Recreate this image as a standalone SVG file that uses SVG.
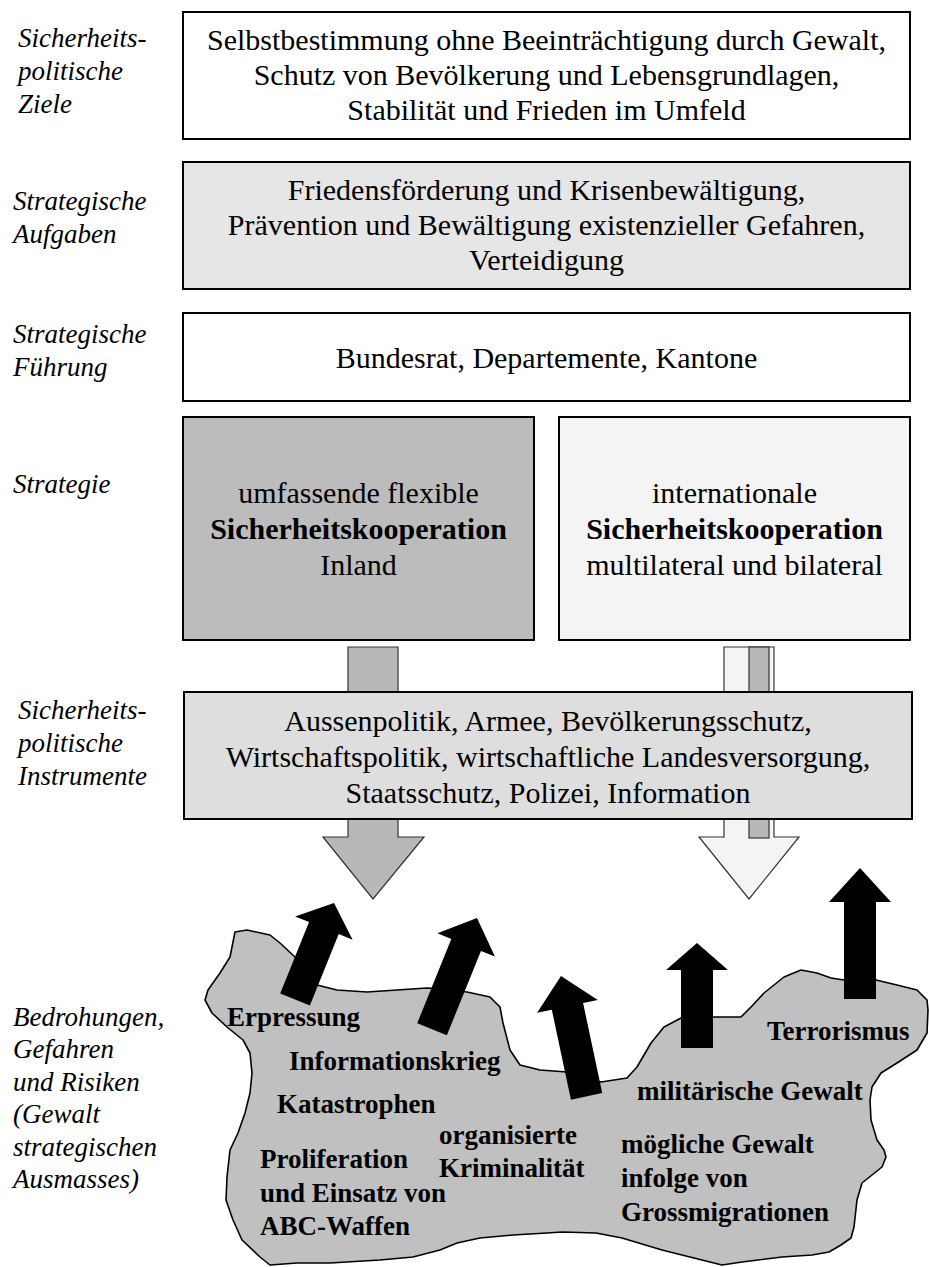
<svg xmlns="http://www.w3.org/2000/svg" width="929" height="1267" viewBox="0 0 929 1267">
<style>
  .box { stroke: #000; stroke-width: 2; }
  .txt { font-family: "Liberation Serif", "Times New Roman", serif; font-size: 30px; fill: #000; text-anchor: middle; }
  .bold30 { font-weight: bold; }
  .lbl { font-family: "Liberation Serif", "Times New Roman", serif; font-size: 27px; font-style: italic; fill: #000; }
  .thr { font-family: "Liberation Serif", "Times New Roman", serif; font-size: 27px; font-weight: bold; fill: #000; }
  .garrow { stroke: #333; stroke-width: 1.2; stroke-linejoin: miter; }
  .barrow { fill: #000; }
</style>
<rect width="929" height="1267" fill="#fff"/>

<g id="labels">
  <text class="lbl" x="18" y="47">Sicherheits-</text>
  <text class="lbl" x="18" y="80">politische</text>
  <text class="lbl" x="18" y="113">Ziele</text>
  <text class="lbl" x="13" y="210">Strategische</text>
  <text class="lbl" x="13" y="243">Aufgaben</text>
  <text class="lbl" x="13" y="343">Strategische</text>
  <text class="lbl" x="13" y="376">Führung</text>
  <text class="lbl" x="13" y="493">Strategie</text>
  <text class="lbl" x="18" y="719">Sicherheits-</text>
  <text class="lbl" x="18" y="752">politische</text>
  <text class="lbl" x="18" y="785">Instrumente</text>
  <text class="lbl" x="13" y="1026">Bedrohungen,</text>
  <text class="lbl" x="13" y="1058">Gefahren</text>
  <text class="lbl" x="13" y="1091">und Risiken</text>
  <text class="lbl" x="13" y="1123">(Gewalt</text>
  <text class="lbl" x="13" y="1156">strategischen</text>
  <text class="lbl" x="13" y="1188">Ausmasses)</text>
</g>

<g id="threats">
  <path fill="#c0c0c0" stroke="#000" stroke-width="1.6" stroke-linejoin="round"
    d="M235,932 L247,930 L270,935 L280,943 L295,957 L305,972 L317,985 L337,990 L367,992 L397,990 L427,988 L447,989 L467,992 L490,997 L500,1007 L503,1023 L510,1050 L520,1065 L540,1070 L567,1072 L585,1078 L601,1082 L627,1078 L637,1067 L651,1043 L664,1027 L681,1018 L714,1017 L741,1017 L751,1007 L764,993 L784,977 L801,970 L817,973 L831,978 L844,980 L876,980 L897,985 L917,990 L927,1000 L928,1010 L927,1033 L917,1050 L897,1063 L881,1073 L872,1087 L870,1100 L871,1120 L877,1140 L884,1150 L886,1157 L882,1167 L872,1175 L862,1183 L857,1200 L854,1227 L851,1238 L841,1245 L829,1252 L812,1255 L782,1257 L742,1262 L722,1265 L702,1260 L662,1250 L622,1238 L596,1233 L562,1232 L547,1233 L513,1235 L480,1238 L457,1243 L440,1250 L413,1257 L380,1260 L330,1263 L297,1263 L270,1265 L260,1257 L242,1240 L233,1220 L226,1200 L227,1177 L230,1150 L238,1133 L245,1113 L250,1093 L252,1073 L250,1053 L243,1040 L227,1027 L212,1013 L205,1000 L208,990 L220,973 L230,957 Z"/>
  <text class="thr" x="227" y="1026">Erpressung</text>
  <text class="thr" x="289" y="1070">Informationskrieg</text>
  <text class="thr" x="277" y="1113">Katastrophen</text>
  <text class="thr" x="260" y="1168">Proliferation</text>
  <text class="thr" x="260" y="1202">und Einsatz von</text>
  <text class="thr" x="260" y="1235">ABC-Waffen</text>
  <text class="thr" x="439" y="1144">organisierte</text>
  <text class="thr" x="439" y="1177">Kriminalität</text>
  <text class="thr" x="637" y="1100">militärische Gewalt</text>
  <text class="thr" x="621" y="1153">mögliche Gewalt</text>
  <text class="thr" x="621" y="1187">infolge von</text>
  <text class="thr" x="621" y="1221">Grossmigrationen</text>
  <text class="thr" x="767" y="1040">Terrorismus</text>
</g>

<g id="connectors">
  <path class="garrow" fill="#b8b8b8" d="M348,647 L398,647 L398,837 L424,837 L373,899 L323,837 L348,837 Z"/>
  <path class="garrow" fill="#f4f4f4" d="M724,647 L774,647 L774,837 L799,837 L749,899 L699,837 L724,837 Z"/>
  <rect class="garrow" fill="#b8b8b8" x="749" y="647" width="20" height="191"/>
  <path class="barrow" transform="translate(334,903) rotate(22)" d="M0,0 L31,27 L16,27 L16,104 L-16,104 L-16,27 L-31,27 Z"/>
  <path class="barrow" transform="translate(477,918) rotate(22)" d="M0,0 L31,29 L16,29 L16,120 L-16,120 L-16,29 L-31,29 Z"/>
  <path class="barrow" transform="translate(561,976) rotate(-12)" d="M0,0 L31,31 L16,31 L16,123 L-16,123 L-16,31 L-31,31 Z"/>
  <path class="barrow" transform="translate(697,943)" d="M0,0 L31,27 L16,27 L16,105 L-16,105 L-16,27 L-31,27 Z"/>
  <path class="barrow" transform="translate(860,868)" d="M0,0 L31,34 L16,34 L16,131 L-16,131 L-16,34 L-31,34 Z"/>
</g>

<g id="goals">
  <rect class="box" x="183" y="12" width="727" height="127" fill="#fff"/>
  <text class="txt" x="546.5" y="50">Selbstbestimmung ohne Beeinträchtigung durch Gewalt,</text>
  <text class="txt" x="546.5" y="85">Schutz von Bevölkerung und Lebensgrundlagen,</text>
  <text class="txt" x="546.5" y="120">Stabilität und Frieden im Umfeld</text>
</g>

<g id="tasks">
  <rect class="box" x="183" y="162" width="727" height="127" fill="#e6e6e6"/>
  <text class="txt" x="546.5" y="200">Friedensförderung und Krisenbewältigung,</text>
  <text class="txt" x="546.5" y="235">Prävention und Bewältigung existenzieller Gefahren,</text>
  <text class="txt" x="546.5" y="270">Verteidigung</text>
</g>

<g id="leadership">
  <rect class="box" x="183" y="313" width="727" height="88" fill="#fff"/>
  <text class="txt" x="546.5" y="368">Bundesrat, Departemente, Kantone</text>
</g>

<g id="strategy-inland">
  <rect class="box" x="183" y="417" width="351" height="223" fill="#bcbcbc"/>
  <text class="txt" x="358.5" y="503">umfassende flexible</text>
  <text class="txt bold30" x="358.5" y="539">Sicherheitskooperation</text>
  <text class="txt" x="358.5" y="575">Inland</text>
</g>

<g id="strategy-international">
  <rect class="box" x="559" y="417" width="351" height="223" fill="#f4f4f4"/>
  <text class="txt" x="734.5" y="503">internationale</text>
  <text class="txt bold30" x="734.5" y="539">Sicherheitskooperation</text>
  <text class="txt" x="734.5" y="575">multilateral und bilateral</text>
</g>

<g id="instruments">
  <rect class="box" x="184" y="692" width="728" height="127" fill="#dedede"/>
  <text class="txt" x="548" y="731">Aussenpolitik, Armee, Bevölkerungsschutz,</text>
  <text class="txt" x="548" y="767">Wirtschaftspolitik, wirtschaftliche Landesversorgung,</text>
  <text class="txt" x="548" y="803">Staatsschutz, Polizei, Information</text>
</g>
</svg>
